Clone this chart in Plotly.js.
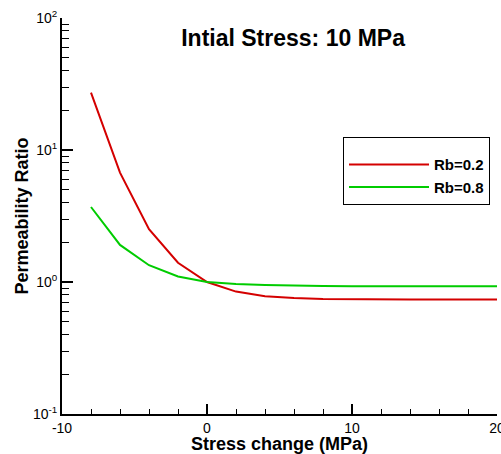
<!DOCTYPE html>
<html>
<head>
<meta charset="utf-8">
<script src="https://cdn.plot.ly/plotly-3.0.1.min.js"></script>
<style>html,body{margin:0;padding:0;background:#fff;}#chart{width:501px;height:454px;}</style>
</head>
<body>
<div id="chart"></div>
<script>
const stressChange = [-8, -6, -4, -2, 0, 2, 4, 6, 8, 10, 12, 14, 16, 18, 20];
const ratioRb02 = [27.2, 6.74, 2.51, 1.40, 1.0, 0.846, 0.78, 0.757, 0.745, 0.74, 0.738, 0.737, 0.736, 0.736, 0.736];
const ratioRb08 = [3.70, 1.91, 1.34, 1.10, 1.0, 0.965, 0.949, 0.938, 0.933, 0.930, 0.929, 0.928, 0.927, 0.927, 0.927];
const seriesNames = ['Rb=0.2', 'Rb=0.8'];
const xTickVals = [-10, 0, 10, 20];
const xTickText = ['-10', '0', '10', '20'];
const yTickVals = [0.1, 1, 10, 100];
const yTickText = ['10<sup>-1</sup>', '10<sup>0</sup>', '10<sup>1</sup>', '10<sup>2</sup>'];
const titleText = 'Intial Stress: 10 MPa';
const xTitle = 'Stress change (MPa)';
const yTitle = 'Permeability Ratio';

const font = '"Liberation Sans", Arial, sans-serif';
const traces = [
  {x: stressChange, y: ratioRb02, name: seriesNames[0], mode: 'lines', line: {color: '#d40000', width: 2}},
  {x: stressChange, y: ratioRb08, name: seriesNames[1], mode: 'lines', line: {color: '#00cc00', width: 2}}
];
const layout = {
  width: 501, height: 454,
  margin: {l: 62, r: 4, t: 18, b: 40},
  paper_bgcolor: '#fff', plot_bgcolor: '#fff',
  font: {family: font, color: '#000', size: 14},
  title: {text: titleText, font: {family: font, size: 23, weight: 'bold', color: '#000'},
          x: 0.585, xref: 'container', xanchor: 'center', y: 1 - 38/454, yref: 'container', yanchor: 'middle'},
  xaxis: {
    range: [-10, 20], tickmode: 'array', tickvals: xTickVals, ticktext: xTickText,
    ticklabeloverflow: 'allow',
    showline: true, linewidth: 2, linecolor: '#000', mirror: false,
    ticks: 'inside', ticklen: 10, tickwidth: 2, tickcolor: '#000',
    minor: {dtick: 2, tick0: 0, ticks: 'inside', ticklen: 5, tickwidth: 1, tickcolor: '#000', showgrid: false},
    showgrid: false, zeroline: false,
    tickfont: {family: font, size: 14, color: '#000'},
    title: {text: xTitle, font: {family: font, size: 18, weight: 'bold', color: '#000'}, standoff: 3}
  },
  yaxis: {
    type: 'log', range: [-1, 2], tickmode: 'array', tickvals: yTickVals, ticktext: yTickText,
    showline: true, linewidth: 2, linecolor: '#000', mirror: false,
    ticks: 'inside', ticklen: 11, tickwidth: 2, tickcolor: '#000',
    minor: {ticks: 'inside', dtick: 'D1', ticklen: 7, tickwidth: 1, tickcolor: '#000', showgrid: false},
    showgrid: false, zeroline: false,
    tickfont: {family: font, size: 14, color: '#000'},
    title: {text: yTitle, font: {family: font, size: 18, weight: 'bold', color: '#000'}, standoff: 0}
  },
  showlegend: true,
  legend: {
    x: 0.646, y: 0.70, xanchor: 'left', yanchor: 'top',
    bgcolor: '#fff', bordercolor: '#000', borderwidth: 1,
    font: {family: font, size: 15, weight: 'bold', color: '#000'},
    title: {text: ' ', font: {size: 8}},
    entrywidth: 155, tracegroupgap: 0, itemwidth: 80
  }
};
Plotly.newPlot('chart', traces, layout, {displayModeBar: false, staticPlot: true});
</script>
</body>
</html>
